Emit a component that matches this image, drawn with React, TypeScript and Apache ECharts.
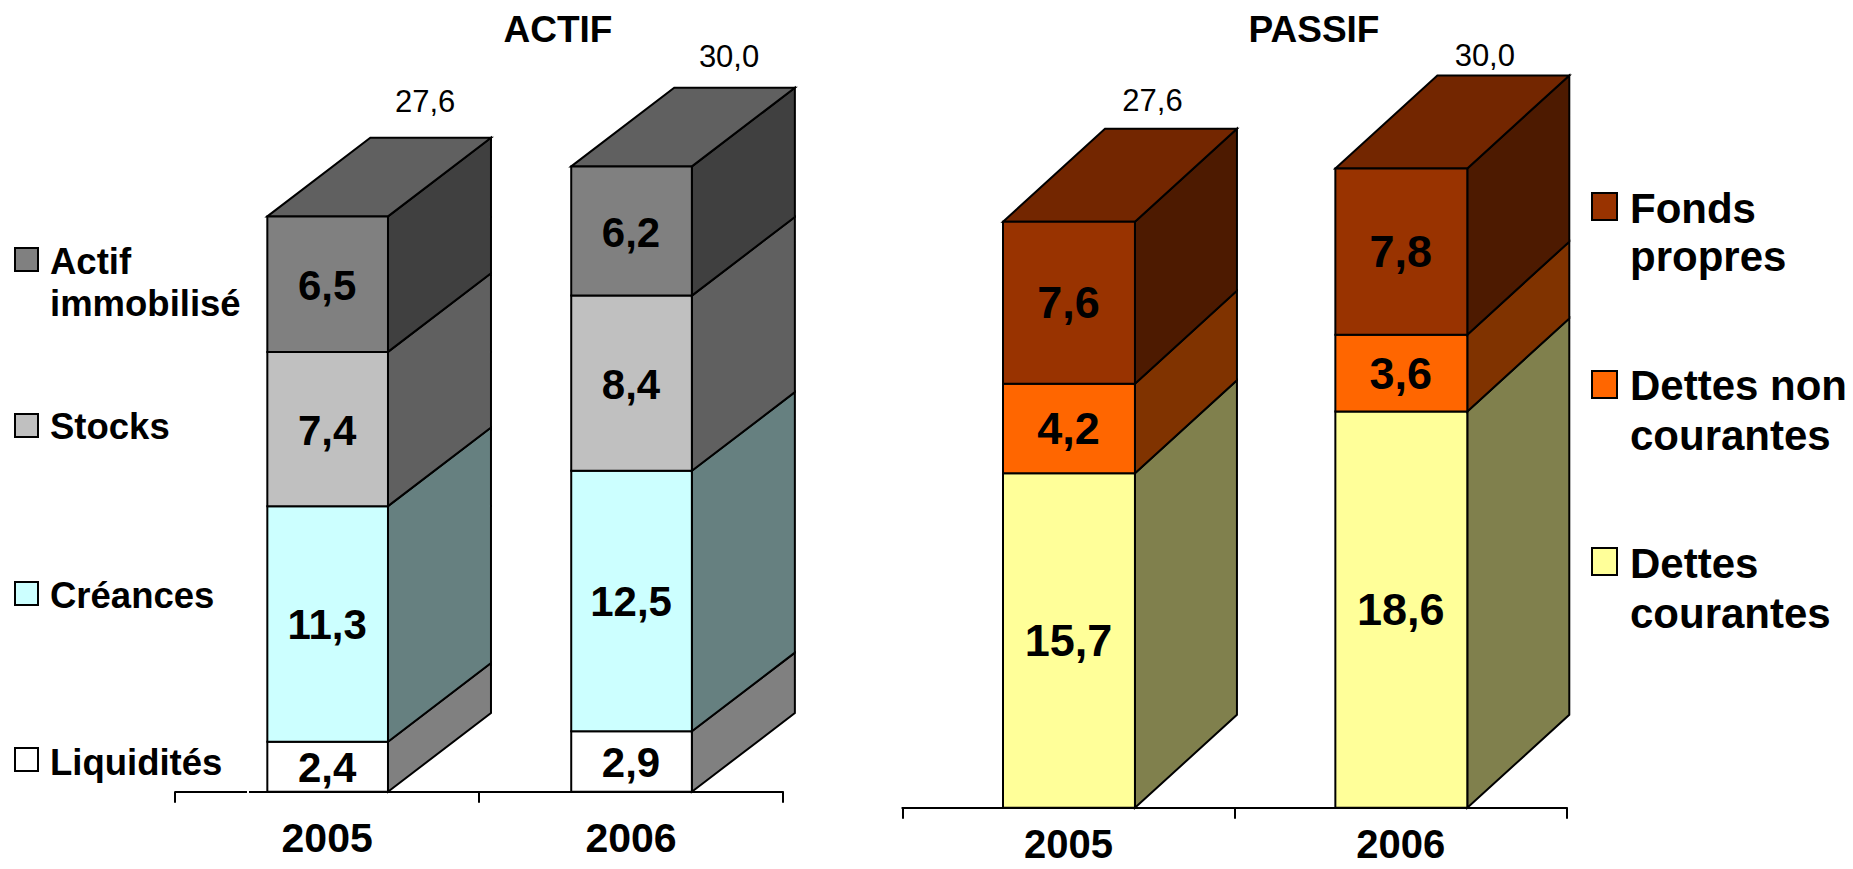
import React, { useEffect, useRef } from "react";
import * as echarts from "echarts";

const years = ["2005", "2006"];

const liquidites = [2.4, 2.9];
const creances = [11.3, 12.5];
const stocks = [7.4, 8.4];
const actifImmobilise = [6.5, 6.2];
const actifTotals = [27.6, 30.0];

const dettesCourantes = [15.7, 18.6];
const dettesNonCourantes = [4.2, 3.6];
const fondsPropres = [7.6, 7.8];
const passifTotals = [27.6, 30.0];

const FONT = '"Liberation Sans", Arial, sans-serif';

type Seg = { name: string; values: number[]; front: string; side: string; top?: string };

const actifSegs: Seg[] = [
  { name: "Liquidités", values: liquidites, front: "#FFFFFF", side: "#808080" },
  { name: "Créances", values: creances, front: "#CCFFFF", side: "#668080" },
  { name: "Stocks", values: stocks, front: "#C0C0C0", side: "#606060" },
  { name: "Actif immobilisé", values: actifImmobilise, front: "#808080", side: "#404040", top: "#606060" },
];
const passifSegs: Seg[] = [
  { name: "Dettes courantes", values: dettesCourantes, front: "#FFFF99", side: "#80804D" },
  { name: "Dettes non courantes", values: dettesNonCourantes, front: "#FF6600", side: "#803300" },
  { name: "Fonds propres", values: fondsPropres, front: "#993300", side: "#4D1A00", top: "#732600" },
];

const fr = (v: number) => v.toFixed(1).replace(".", ",");

function stackSeries(segs: Seg[], gridIndex: number, barRatio: number, dx: number, dy: number, fontSize: number, labelDy: number) {
  const running = years.map(() => 0);
  return segs.map((seg) => {
    const data = seg.values.map((v, i) => {
      const row = [i, running[i], running[i] + v, v];
      running[i] += v;
      return row;
    });
    return {
      type: "custom",
      name: seg.name,
      xAxisIndex: gridIndex,
      yAxisIndex: gridIndex,
      encode: { x: 0, y: 2 },
      data,
      silent: true,
      renderItem: (_: any, api: any) => {
        const w = api.size([1, 0])[0] * barRatio;
        const base = api.coord([api.value(0), api.value(1)]);
        const end = api.coord([api.value(0), api.value(2)]);
        const xc = base[0] + 0.5;
        const l = xc - w / 2;
        const r = xc + w / 2;
        const line = { stroke: "#000", lineWidth: 2, lineJoin: "miter" };
        const children: any[] = [
          {
            type: "polygon",
            shape: { points: [[r, base[1]], [r + dx, base[1] - dy], [r + dx, end[1] - dy], [r, end[1]]] },
            style: { fill: seg.side, ...line },
          },
        ];
        if (seg.top) {
          children.push({
            type: "polygon",
            shape: { points: [[l, end[1]], [l + dx, end[1] - dy], [r + dx, end[1] - dy], [r, end[1]]] },
            style: { fill: seg.top, ...line },
          });
        }
        children.push({
          type: "rect",
          shape: { x: l, y: end[1], width: w, height: base[1] - end[1] },
          style: { fill: seg.front, ...line },
        });
        children.push({
          type: "text",
          style: {
            text: fr(api.value(3)),
            x: xc - 0.5,
            y: (base[1] + end[1]) / 2 + labelDy,
            align: "center",
            verticalAlign: "middle",
            fill: "#000",
            fontFamily: FONT,
            fontWeight: "bold",
            fontSize,
          },
        });
        return { type: "group", children };
      },
    };
  });
}

function totalSeries(totals: number[], gridIndex: number, offX: number, offY: number[]) {
  return {
    type: "custom",
    name: "Total",
    xAxisIndex: gridIndex,
    yAxisIndex: gridIndex,
    encode: { x: 0, y: 1 },
    data: totals.map((t, i) => [i, t]),
    silent: true,
    renderItem: (p: any, api: any) => {
      const c = api.coord([api.value(0), api.value(1)]);
      return {
        type: "text",
        style: {
          text: fr(api.value(1)),
          x: c[0] + offX,
          y: c[1] - offY[p.dataIndex],
          align: "center",
          verticalAlign: "middle",
          fill: "#000",
          fontFamily: FONT,
          fontSize: 31,
        },
      };
    },
  };
}

function legendEntry(x: number, y: number, w: number, h: number, tx: number, lines: string[], lh: number, firstY: number, fs: number, fill: string) {
  const items: any[] = [
    { type: "rect", shape: { x, y, width: w, height: h }, style: { fill, stroke: "#000", lineWidth: 2 } },
  ];
  lines.forEach((t, i) => {
    items.push({
      type: "text",
      style: {
        text: t,
        x: tx,
        y: firstY + i * lh,
        align: "left",
        verticalAlign: "middle",
        fill: "#000",
        fontFamily: FONT,
        fontWeight: "bold",
        fontSize: fs,
      },
    });
  });
  return items;
}

const titleStyle = (text: string, x: number) => ({
  type: "text",
  style: {
    text,
    x,
    y: 29,
    align: "center",
    verticalAlign: "middle",
    fill: "#000",
    fontFamily: FONT,
    fontWeight: "bold",
    fontSize: 37,
  },
});

export default function App() {
  const ref = useRef<HTMLDivElement>(null);
  useEffect(() => {
    const chart = echarts.init(ref.current!, undefined, { renderer: "svg" });
    const xAxis = (gridIndex: number, fontSize: number, margin: number) => ({
      type: "category",
      gridIndex,
      data: years,
      axisLine: { show: true, lineStyle: { color: "#000", width: 2 } },
      axisTick: { show: true, length: 11, lineStyle: { color: "#000", width: 2 } },
      axisLabel: { color: "#000", fontFamily: FONT, fontWeight: "bold", fontSize, margin, lineHeight: 30 },
    });
    const yAxis = (gridIndex: number) => ({ type: "value", gridIndex, min: 0, max: 32, show: false });
    chart.setOption({
      animation: false,
      backgroundColor: "#fff",
      grid: [
        { left: 175.2, width: 607.8, top: 124.7, height: 667, outerBoundsMode: "none" },
        { left: 902.3, width: 664.7, top: 125.8, height: 682, outerBoundsMode: "none" },
      ],
      xAxis: [xAxis(0, 41, 31), xAxis(1, 40, 21)],
      yAxis: [yAxis(0), yAxis(1)],
      series: [
        ...stackSeries(actifSegs, 0, 0.397, 103, 78.6, 42, 1),
        totalSeries(actifTotals, 0, 98, [114.5, 109.5]),
        ...stackSeries(passifSegs, 1, 0.397, 102, 93, 45, 0),
        totalSeries(passifTotals, 1, 84, [119, 113]),
      ],
      graphic: [
        titleStyle("ACTIF", 558),
        titleStyle("PASSIF", 1314),
        { type: "rect", shape: { x: 247, y: 789, width: 2, height: 5 }, style: { fill: "#fff" }, z: 10 },
        ...legendEntry(15, 248, 23, 23, 50, ["Actif", "immobilisé"], 42, 261, 36.5, "#808080"),
        ...legendEntry(15, 414, 23, 23, 50, ["Stocks"], 42, 426, 36.5, "#C0C0C0"),
        ...legendEntry(15, 582, 23, 23, 50, ["Créances"], 42, 595, 36.5, "#CCFFFF"),
        ...legendEntry(15, 748, 23, 23, 50, ["Liquidités"], 42, 762, 36.5, "#FFFFFF"),
        ...legendEntry(1592, 193, 25, 27, 1630, ["Fonds", "propres"], 48, 208, 42, "#993300"),
        ...legendEntry(1592, 371, 25, 27, 1630, ["Dettes non", "courantes"], 50, 385, 42, "#FF6600"),
        ...legendEntry(1592, 548, 25, 27, 1630, ["Dettes", "courantes"], 50, 563, 42, "#FFFF99"),
      ],
    });
    return () => chart.dispose();
  }, []);
  return <div ref={ref} style={{ position: "fixed", left: 0, top: 0, width: 1853, height: 869 }} />;
}
